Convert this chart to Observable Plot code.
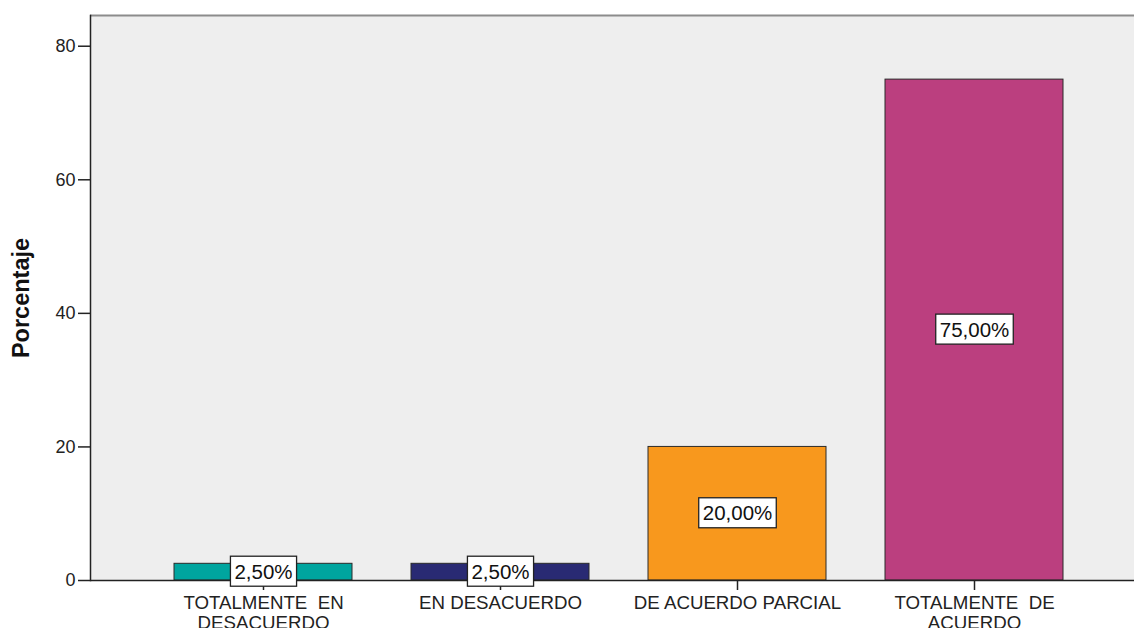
<!DOCTYPE html>
<html><head><meta charset="utf-8">
<script src="https://cdn.jsdelivr.net/npm/d3@7"></script>
<script src="https://cdn.jsdelivr.net/npm/@observablehq/plot@0.6"></script>
<style>
body{margin:0;background:#fff;}
svg text{white-space:pre;}
</style>
</head><body><div id="chart"></div>
<script>
const categories = ["TOTALMENTE  EN DESACUERDO", "EN DESACUERDO", "DE ACUERDO PARCIAL", "TOTALMENTE  DE ACUERDO"];
const tickLabels = ["TOTALMENTE  EN\nDESACUERDO", "EN DESACUERDO", "DE ACUERDO PARCIAL", "TOTALMENTE  DE\nACUERDO"];
const values = [2.5, 2.5, 20, 75];
const valueLabels = ["2,50%", "2,50%", "20,00%", "75,00%"];
const colors = ["#00a59f", "#292a73", "#f8981d", "#bb3f7f"];
const yTicks = [0, 20, 40, 60, 80];
const yMax = 84.6;
const yTitle = "Porcentaje";

const data = categories.map((c, i) => ({category: c, value: values[i], label: valueLabels[i]}));

const chart = Plot.plot({
  width: 1134, height: 628,
  marginLeft: 90, marginRight: 0, marginTop: 15, marginBottom: 48,
  style: {fontFamily: '"Liberation Sans", Arial, sans-serif', fontSize: "18px", color: "#222", background: "#fff", overflow: "hidden"},
  x: {domain: categories, range: [90, 1146], paddingInner: 0.25, paddingOuter: 0.35},
  y: {domain: [0, yMax]},
  color: {domain: categories, range: colors},
  marks: [
    Plot.frame({fill: "#eeeeee", stroke: null}),
    Plot.barY(data, {x: "category", y: "value", fill: "category", stroke: "#2a2a2a", strokeWidth: 1}),
    Plot.ruleY([yMax], {stroke: "#8c8c8c", strokeWidth: 2}),
    Plot.ruleY([0], {stroke: "#222", strokeWidth: 1.5}),
    Plot.frame({anchor: "left", stroke: "#222", strokeWidth: 1.5}),
    Plot.axisY({ticks: yTicks, tickSize: 12, tickPadding: 3, label: null, fontSize: 18, stroke: "#222", strokeWidth: 1.5}),
    Plot.axisX({tickSize: 10, tickPadding: 4, tickFormat: d => tickLabels[categories.indexOf(d)], label: null, fontSize: 18.7, lineHeight: 1.07, stroke: "#222", strokeWidth: 1.5}),
    Plot.text(data, {x: "category", y: d => d.value / 2, text: "label", fontSize: 20.5, fill: "#111", className: "vlabel"}),
    Plot.text([yTitle], {frameAnchor: "left", textAnchor: "middle", rotate: -90, dx: -69, fontWeight: "bold", fontSize: 23.5, fill: "#111"})
  ]
});
document.getElementById("chart").append(chart);

// white boxes behind the value labels
const g = chart.querySelector("g.vlabel") || chart.querySelectorAll('g[aria-label="text"]')[0];
if (g) {
  g.querySelectorAll("text").forEach(t => {
    const bb = t.getBBox();
    const r = document.createElementNS("http://www.w3.org/2000/svg", "rect");
    const cy = bb.y + bb.height / 2;
    r.setAttribute("x", bb.x - 4);
    r.setAttribute("width", bb.width + 8);
    r.setAttribute("y", cy - 15);
    r.setAttribute("height", 30);
    r.setAttribute("fill", "#fff");
    r.setAttribute("stroke", "#222");
    r.setAttribute("stroke-width", 1.3);
    if (t.getAttribute("transform")) r.setAttribute("transform", t.getAttribute("transform"));
    t.parentNode.insertBefore(r, t);
  });
}
</script>
</body></html>
